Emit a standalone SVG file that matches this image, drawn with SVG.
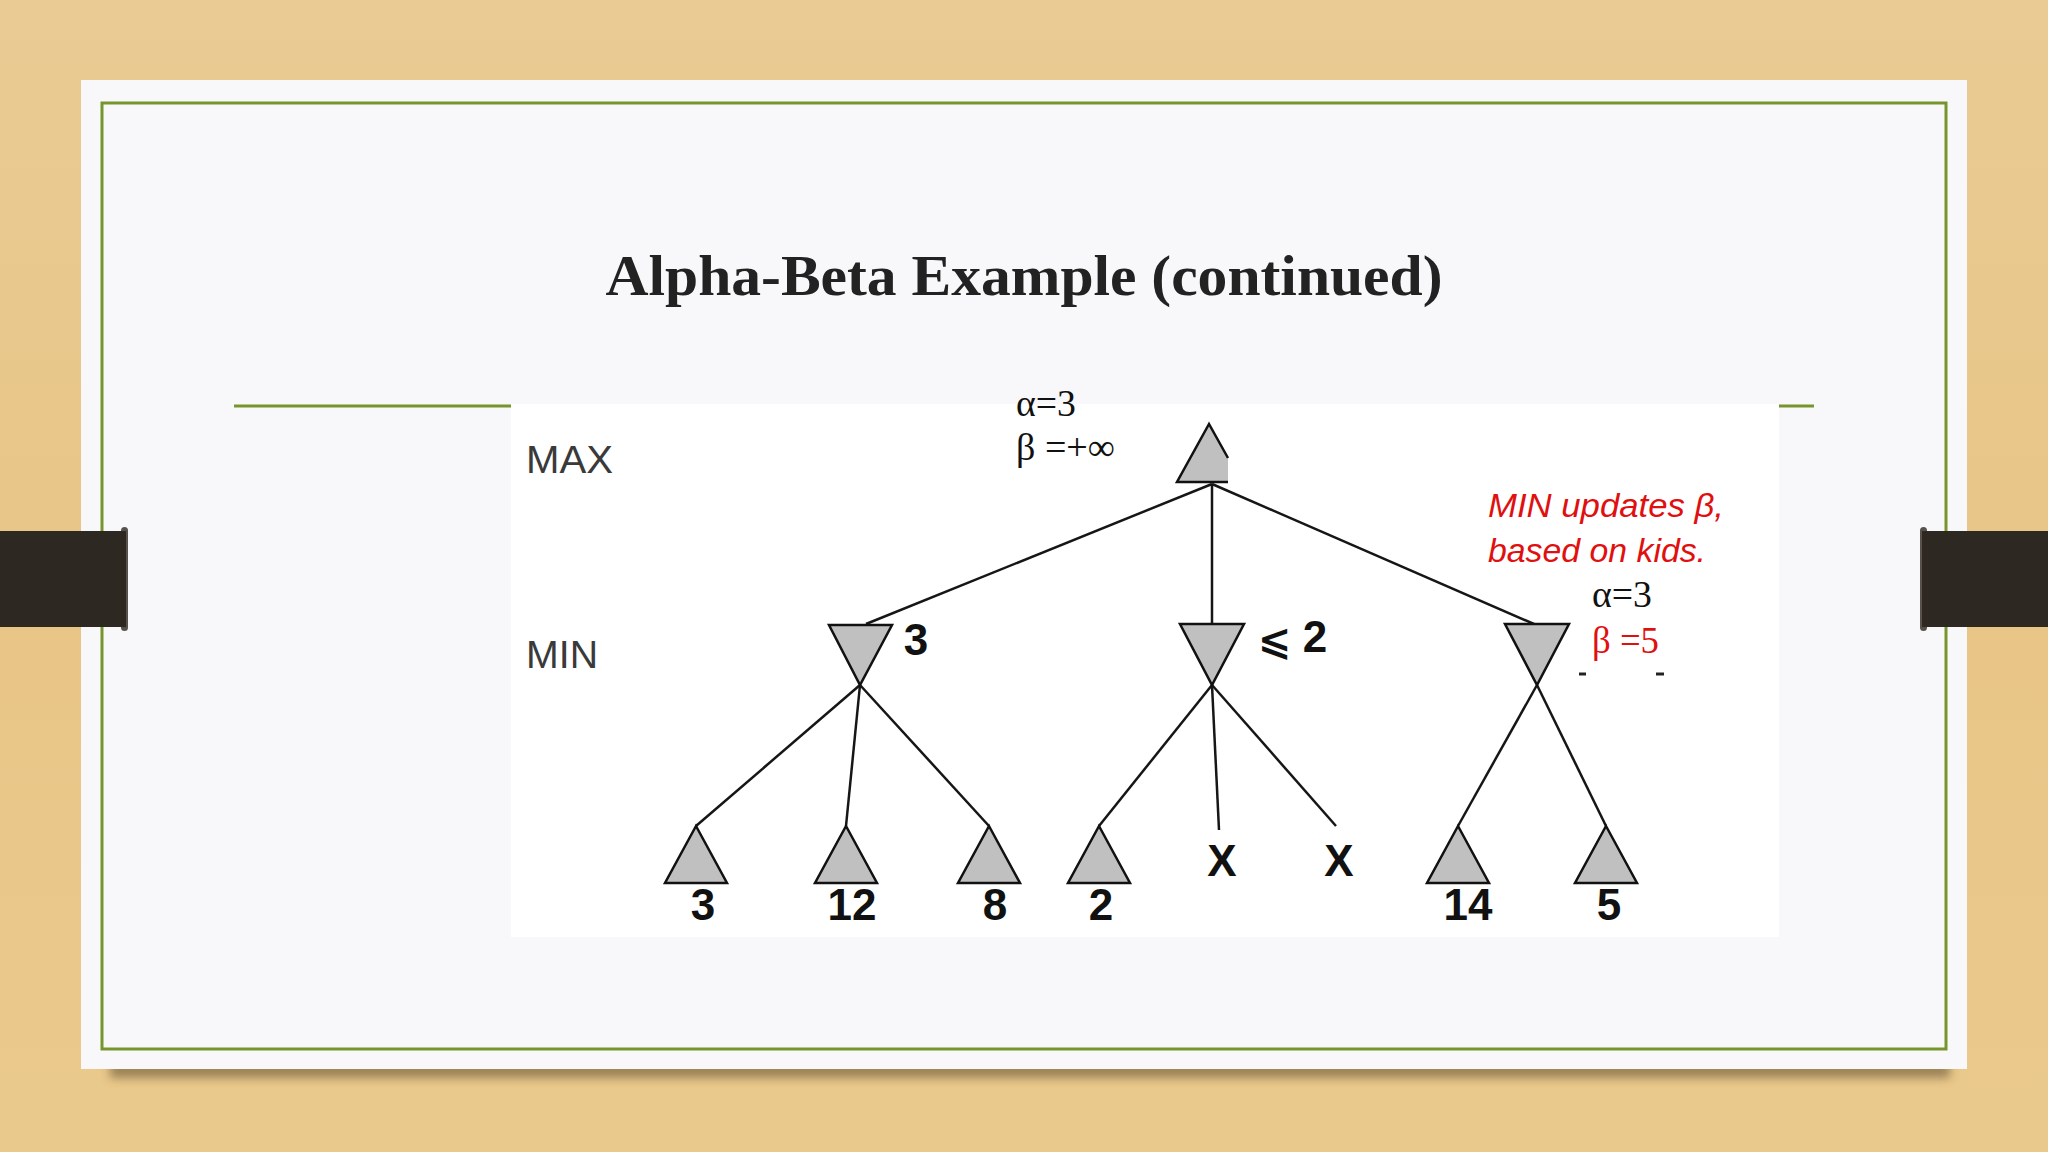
<svg xmlns="http://www.w3.org/2000/svg" width="2048" height="1152" viewBox="0 0 2048 1152">
<defs>
<linearGradient id="wood" x1="0" y1="0" x2="0" y2="1">
<stop offset="0" stop-color="#e9cb93"/>
<stop offset="0.5" stop-color="#e8c587"/>
<stop offset="1" stop-color="#eac98c"/>
</linearGradient>
<filter id="blur" x="-10%" y="-200%" width="120%" height="500%"><feGaussianBlur stdDeviation="5"/></filter>
<style>
.tri{fill:#c0c0c0;stroke:#111;stroke-width:2.5;stroke-linejoin:miter}
.edge{stroke:#161616;stroke-width:2.5;fill:none}
.lvl{font-family:"Liberation Sans",Arial,sans-serif;font-size:39px;fill:#3a3a3a}
.val{font-family:"Liberation Sans",Arial,sans-serif;font-size:44px;font-weight:bold;fill:#111;text-anchor:middle}
.ab{font-family:"Liberation Serif","Times New Roman",serif;font-size:38px;fill:#111}
.red{fill:#e01010}
.note{font-family:"Liberation Sans",Arial,sans-serif;font-style:italic;font-size:33px;fill:#e01010}
.tab{fill:#2e2822}
</style>
</defs>
<rect width="2048" height="1152" fill="url(#wood)"/>
<rect x="110" y="1062" width="1840" height="16" fill="#5a4a2a" opacity="0.55" filter="url(#blur)"/>
<rect x="81" y="80" width="1886" height="989" fill="#f8f8fa"/>
<rect x="102" y="103" width="1844" height="946" fill="none" stroke="#76962c" stroke-width="3"/>
<rect class="tab" x="0" y="531" width="126" height="96"/>
<rect class="tab" x="121" y="527" width="7" height="104" rx="3.5" opacity="0.8"/>
<rect class="tab" x="1922" y="531" width="126" height="96"/>
<rect class="tab" x="1920" y="527" width="7" height="104" rx="3.5" opacity="0.8"/>
<text x="1024" y="295" text-anchor="middle" font-family="'Liberation Serif','Times New Roman',serif" font-weight="bold" font-size="56" fill="#222" textLength="837" lengthAdjust="spacingAndGlyphs">Alpha-Beta Example (continued)</text>
<line x1="234" y1="406" x2="1814" y2="406" stroke="#76962c" stroke-width="3"/>
<rect x="511" y="404" width="1268" height="533" fill="#ffffff"/>
<text class="lvl" x="526" y="473" textLength="87" lengthAdjust="spacingAndGlyphs">MAX</text>
<text class="lvl" x="526" y="668" textLength="72" lengthAdjust="spacingAndGlyphs">MIN</text>
<g id="connectors">
<line class="edge" x1="1212" y1="484" x2="866" y2="624"/>
<line class="edge" x1="1212" y1="484" x2="1212" y2="624"/>
<line class="edge" x1="1212" y1="484" x2="1534" y2="624"/>
<line class="edge" x1="860" y1="685" x2="696" y2="826"/>
<line class="edge" x1="860" y1="685" x2="846" y2="826"/>
<line class="edge" x1="860" y1="685" x2="989" y2="826"/>
<line class="edge" x1="1212" y1="685" x2="1099" y2="826"/>
<line class="edge" x1="1212" y1="685" x2="1219" y2="830"/>
<line class="edge" x1="1212" y1="685" x2="1336" y2="826"/>
<line class="edge" x1="1537" y1="685" x2="1458" y2="826"/>
<line class="edge" x1="1537" y1="685" x2="1606" y2="826"/>
</g>
<g id="max-root">
<polygon points="1209,424 1228,458 1228,482 1177,482" fill="#c0c0c0"/>
<path d="M1228,458 L1209,424 L1177,482 L1228,482" fill="none" stroke="#111" stroke-width="2.5"/>
<text class="ab" x="1016" y="416" textLength="60" lengthAdjust="spacingAndGlyphs">α=3</text>
<text class="ab" x="1016" y="460" textLength="99" lengthAdjust="spacingAndGlyphs">β =+∞</text>
</g>
<g id="min-1">
<polygon class="tri" points="829,625 892,625 860,685"/>
<text class="val" x="916" y="655" font-size="42">3</text>
</g>
<g id="min-2">
<polygon class="tri" points="1180,624 1244,624 1212,685"/>
<text x="1258" y="654" font-family="'DejaVu Sans',sans-serif" font-size="40" font-weight="bold" fill="#111">⩽</text>
<text class="val" x="1315" y="652" font-size="42">2</text>
</g>
<g id="min-3">
<polygon class="tri" points="1505,624 1569,624 1537,685"/>
<text class="ab" x="1592" y="607" textLength="60" lengthAdjust="spacingAndGlyphs">α=3</text>
<text class="ab red" x="1592" y="653" textLength="67" lengthAdjust="spacingAndGlyphs">β =5</text>
<line x1="1579" y1="674" x2="1586" y2="674" stroke="#222" stroke-width="3"/>
<line x1="1656" y1="674" x2="1664" y2="674" stroke="#222" stroke-width="3"/>
</g>
<g id="note">
<text class="note" x="1488" y="517" textLength="236" lengthAdjust="spacingAndGlyphs">MIN updates β,</text>
<text class="note" x="1488" y="562" textLength="218" lengthAdjust="spacingAndGlyphs">based on kids.</text>
</g>
<g id="leaf-3"><polygon class="tri" points="665,883 727,883 696,826"/><text class="val" x="703" y="920">3</text></g>
<g id="leaf-12"><polygon class="tri" points="815,883 877,883 846,826"/><text class="val" x="852" y="920">12</text></g>
<g id="leaf-8"><polygon class="tri" points="958,883 1020,883 989,826"/><text class="val" x="995" y="920">8</text></g>
<g id="leaf-2"><polygon class="tri" points="1068,883 1130,883 1099,826"/><text class="val" x="1101" y="920">2</text></g>
<g id="pruned-1"><text class="val" x="1222" y="876">X</text></g>
<g id="pruned-2"><text class="val" x="1339" y="876">X</text></g>
<g id="leaf-14"><polygon class="tri" points="1427,883 1489,883 1458,826"/><text class="val" x="1468" y="920">14</text></g>
<g id="leaf-5"><polygon class="tri" points="1575,883 1637,883 1606,826"/><text class="val" x="1609" y="920">5</text></g>
</svg>
